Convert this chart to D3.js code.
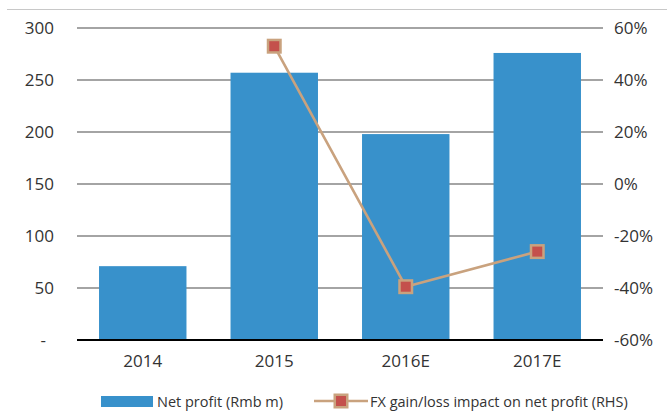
<html>
<head>
<script src="https://cdn.jsdelivr.net/npm/d3@7"></script>
</head>
<body style="margin:0; padding:0; background:#fff;">
<script>
// chart data
var categories = ["2014", "2015", "2016E", "2017E"];
var netProfit = [71, 257, 198, 276];
var fxImpact = [null, 53, -39.5, -26];
var leftTicks = [0, 50, 100, 150, 200, 250, 300];
var rightTicks = [-60, -40, -20, 0, 20, 40, 60];
var legendLabels = ["Net profit (Rmb m)", "FX gain/loss impact on net profit (RHS)"];

var width = 667, height = 414;
// plot area (note: "top" is reserved on window, so use plot*)
var plotL = 77, plotR = 603, plotT = 28, plotB = 340;

var barColor = "#3891cb";
var lineColor = "#c9a27e";
var markerFill = "#c4504c";
var font = "'Open Sans', sans-serif";

var svg = d3.select("body").append("svg")
	.attr("width", width)
	.attr("height", height)
	.style("font-family", font);

// thin frame line at the top
svg.append("line")
	.attr("x1", 7).attr("x2", width)
	.attr("y1", 9.5).attr("y2", 9.5)
	.attr("stroke", "#c8c8c8").attr("stroke-width", 1);

var x = d3.scaleBand().domain(categories).range([plotL, plotR])
	.paddingInner(0.335).paddingOuter(0.1675);
var y = d3.scaleLinear().domain([0, 300]).range([plotB, plotT]);
var y2 = d3.scaleLinear().domain([-60, 60]).range([plotB, plotT]);

// gridlines
svg.append("g").selectAll("line")
	.data(leftTicks.filter(function(d) { return d > 0; }))
	.enter().append("line")
		.attr("x1", plotL).attr("x2", plotR)
		.attr("y1", function(d) { return y(d); })
		.attr("y2", function(d) { return y(d); })
		.attr("stroke", "#868686").attr("stroke-width", 1.4);

// bars
svg.append("g").selectAll("rect")
	.data(netProfit)
	.enter().append("rect")
		.attr("x", function(d, i) { return x(categories[i]); })
		.attr("y", function(d) { return y(d); })
		.attr("width", x.bandwidth())
		.attr("height", function(d) { return plotB - y(d); })
		.attr("fill", barColor);

// baseline
svg.append("line")
	.attr("x1", plotL).attr("x2", plotR)
	.attr("y1", plotB).attr("y2", plotB)
	.attr("stroke", "#000").attr("stroke-width", 2.2);

// left axis labels
var yAxis = d3.axisLeft(y).tickValues(leftTicks).tickSize(0).tickPadding(0)
	.tickFormat(function(d) { return d === 0 ? "-" : d; });
var gl = svg.append("g").attr("transform", "translate(54,0)").call(yAxis);
gl.select(".domain").remove();
gl.selectAll("text").style("font-size", "17px").style("font-family", font).attr("fill", "#333")
	.attr("dx", function(d) { return d === 0 ? -8 : 0; });

// right axis labels
var yAxis2 = d3.axisRight(y2).tickValues(rightTicks).tickSize(0).tickPadding(0)
	.tickFormat(function(d) { return d + "%"; });
var gr = svg.append("g").attr("transform", "translate(614,0)").call(yAxis2);
gr.select(".domain").remove();
gr.selectAll("text").style("font-size", "17px").style("font-family", font).attr("fill", "#333");

// x axis labels
var xAxis = d3.axisBottom(x).tickSize(0).tickPadding(0);
var gx = svg.append("g").attr("transform", "translate(0,355)").call(xAxis);
gx.select(".domain").remove();
gx.selectAll("text").style("font-size", "17px").style("font-family", font).attr("fill", "#333");

// fx line
var pts = fxImpact.map(function(d, i) { return {c: categories[i], v: d}; })
	.filter(function(d) { return d.v !== null; });
var line = d3.line()
	.x(function(d) { return x(d.c) + x.bandwidth() / 2; })
	.y(function(d) { return y2(d.v); });
svg.append("path").datum(pts)
	.attr("d", line)
	.attr("fill", "none")
	.attr("stroke", lineColor).attr("stroke-width", 2.6);

var ms = 12.5;
svg.append("g").selectAll("rect")
	.data(pts)
	.enter().append("rect")
		.attr("x", function(d) { return x(d.c) + x.bandwidth() / 2 - ms / 2; })
		.attr("y", function(d) { return y2(d.v) - ms / 2; })
		.attr("width", ms).attr("height", ms)
		.attr("fill", markerFill)
		.attr("stroke", lineColor).attr("stroke-width", 2.5);

// legend
var lg = svg.append("g");
lg.append("rect").attr("x", 101).attr("y", 396).attr("width", 52).attr("height", 11).attr("fill", barColor);
lg.append("text").attr("x", 157).attr("y", 407).text(legendLabels[0])
	.style("font-size", "14.5px").attr("fill", "#333");
lg.append("line").attr("x1", 314).attr("x2", 368).attr("y1", 401).attr("y2", 401)
	.attr("stroke", lineColor).attr("stroke-width", 2.6);
lg.append("rect").attr("x", 341 - ms / 2).attr("y", 401 - ms / 2).attr("width", ms).attr("height", ms)
	.attr("fill", markerFill).attr("stroke", lineColor).attr("stroke-width", 2.5);
lg.append("text").attr("x", 370).attr("y", 407).text(legendLabels[1])
	.style("font-size", "14.5px").attr("fill", "#333");
</script>
</body>
</html>
